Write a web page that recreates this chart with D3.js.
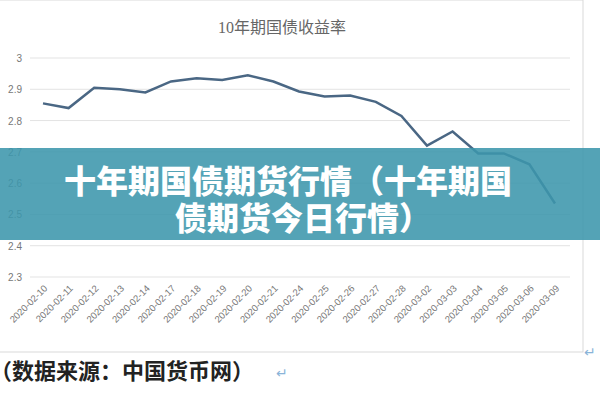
<!DOCTYPE html>
<html><head><meta charset="utf-8">
<script src="https://cdn.jsdelivr.net/npm/d3@7"></script>
<style>body{margin:0;background:#fff}</style>
</head><body><div id="chart"></div>
<script>
const dates = ["2020-02-10","2020-02-11","2020-02-12","2020-02-13","2020-02-14","2020-02-17","2020-02-18","2020-02-19","2020-02-20","2020-02-21","2020-02-24","2020-02-25","2020-02-26","2020-02-27","2020-02-28","2020-03-02","2020-03-03","2020-03-04","2020-03-05","2020-03-06","2020-03-09"]
const yields = [2.855,2.84,2.905,2.9,2.89,2.925,2.935,2.93,2.945,2.925,2.893,2.877,2.88,2.86,2.815,2.72,2.765,2.695,2.695,2.66,2.535]
const yTicks = [2.3,2.4,2.5,2.6,2.7,2.8,2.9,3]

const w = 600, h = 400
const svg = d3.select("#chart").append("svg").attr("width", w).attr("height", h)

// frame
svg.append("rect").attr("x", -2).attr("y", 0).attr("width", 585).attr("height", 352)
   .attr("fill", "#fff").attr("stroke", "#d9d9d9")

svg.append("text").attr("x", 282).attr("y", 33).attr("text-anchor", "middle")
   .attr("font-family", "Liberation Serif, Noto Sans CJK SC").attr("font-size", 16)
   .attr("fill", "#666").text("10年期国债收益率")

const x = d3.scalePoint().domain(dates).range([43, 555])
const y = d3.scaleLinear().domain([2.3, 3]).range([277, 58])

svg.append("g").selectAll("line").data(yTicks).enter().append("line")
   .attr("x1", 30).attr("x2", 570)
   .attr("y1", d => y(d)).attr("y2", d => y(d))
   .attr("stroke", "#e3e3e3")

svg.append("g").selectAll("text").data(yTicks).enter().append("text")
   .attr("x", 22).attr("y", d => y(d) + 4).attr("text-anchor", "end")
   .attr("font-family", "Liberation Sans").attr("font-size", 10).attr("fill", "#777")
   .text(d => d)

svg.append("path").datum(yields)
   .attr("d", d3.line().x((d, i) => x(dates[i])).y(d => y(d)))
   .attr("fill", "none").attr("stroke", "#4a6784").attr("stroke-width", 2.5)

svg.append("g").selectAll("text").data(dates).enter().append("text")
   .attr("transform", d => `translate(${x(d) + 5},${289}) rotate(-45)`)
   .attr("text-anchor", "end")
   .attr("font-family", "Liberation Sans").attr("font-size", 9.5).attr("fill", "#777")
   .text(d => d)

// source line
svg.append("text").attr("x", -10).attr("y", 379)
   .attr("font-family", "Noto Sans CJK SC").attr("font-weight", "bold").attr("font-size", 22)
   .attr("fill", "#222").text("（数据来源：中国货币网）")
svg.append("text").attr("x", 276).attr("y", 378)
   .attr("font-family", "DejaVu Sans").attr("font-size", 14).attr("fill", "#8ab4d8").text("↵")
svg.append("text").attr("x", 584).attr("y", 357)
   .attr("font-family", "DejaVu Sans").attr("font-size", 14).attr("fill", "#8ab4d8").text("↵")

// banner
svg.append("rect").attr("x", 0).attr("y", 148).attr("width", 600).attr("height", 92)
   .attr("fill", "rgb(60,150,172)").attr("opacity", 0.88)
const banner = ["十年期国债期货行情（十年期国", "债期货今日行情）"]
svg.append("g").selectAll("text").data(banner).enter().append("text")
   .attr("x", (d, i) => i ? 175 : 64).attr("y", (d, i) => 193 + i * 37)
   .attr("font-family", "Noto Sans CJK SC").attr("font-weight", 900).attr("font-size", 32)
   .attr("fill", "#fff").text(d => d)
</script></body></html>
